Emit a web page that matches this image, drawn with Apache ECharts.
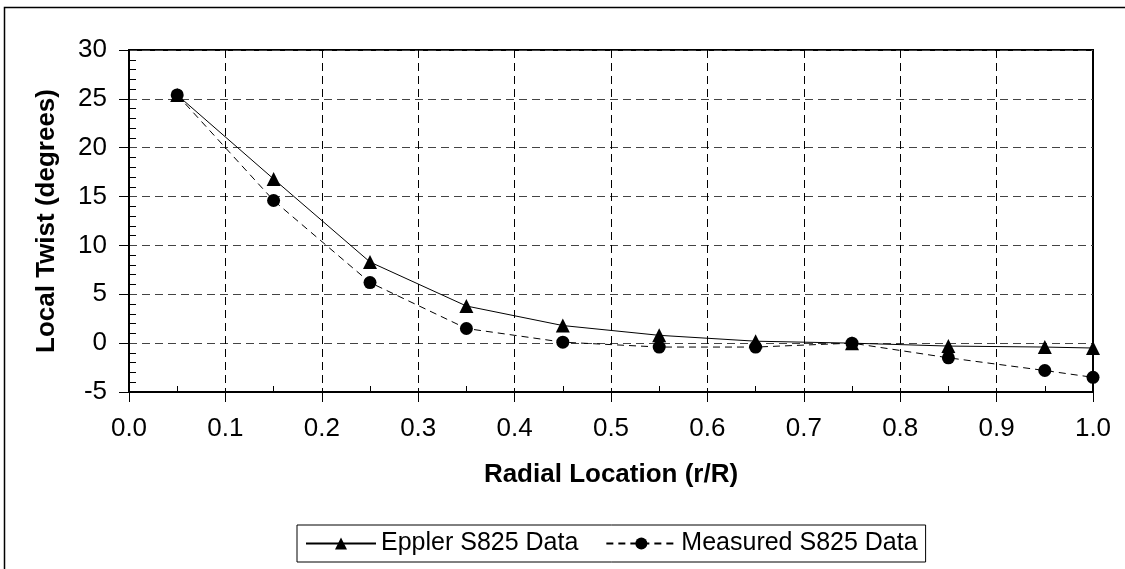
<!DOCTYPE html>
<html>
<head>
<meta charset="utf-8">
<script src="https://cdn.jsdelivr.net/npm/echarts@6/dist/echarts.min.js"></script>
<style>
html,body{margin:0;padding:0;background:#fff;}
#chart{width:1125px;height:569px;}
</style>
</head>
<body>
<div id="chart"></div>
<script>
const radial = [0.05, 0.15, 0.25, 0.35, 0.45, 0.55, 0.65, 0.75, 0.85, 0.95, 1.0];
const epplerTwist = [25.4, 16.8, 8.3, 3.8, 1.8, 0.8, 0.2, 0.0, -0.3, -0.4, -0.5];
const measuredTwist = [25.4, 14.6, 6.2, 1.5, 0.1, -0.4, -0.4, 0.0, -1.5, -2.8, -3.5];
const seriesNames = ['Eppler S825 Data', 'Measured S825 Data'];
const xTitle = 'Radial Location (r/R)';
const yTitle = 'Local Twist (degrees)';

const font = 'Liberation Sans, Arial, sans-serif';
const chart = echarts.init(document.getElementById('chart'), null, {renderer: 'canvas'});
chart.setOption({
  animation: false,
  backgroundColor: '#fff',
  graphic: [{
    type: 'rect', shape: {x: 4.5, y: 7.5, width: 1130, height: 580},
    style: {fill: 'none', stroke: '#000', lineWidth: 1.5}, silent: true, z: -1
  }],
  grid: {left: 129, top: 50, right: 32, bottom: 177, show: true, borderColor: '#000', borderWidth: 2, backgroundColor: 'transparent'},
  legend: {
    data: seriesNames,
    left: 297, top: 525,
    padding: [6, 8, 6, 8],
    itemGap: 27,
    itemWidth: 70, itemHeight: 15,
    borderColor: '#000', borderWidth: 1,
    textStyle: {fontFamily: font, fontSize: 25, color: '#000'}
  },
  xAxis: {
    type: 'value', min: 0, max: 1, interval: 0.1,
    name: xTitle, nameLocation: 'middle', nameGap: 70,
    nameTextStyle: {fontFamily: font, fontSize: 26, fontWeight: 'bold', color: '#000'},
    axisLine: {onZero: false, lineStyle: {color: '#000', width: 2}},
    axisTick: {show: true, inside: false, length: 10, lineStyle: {color: '#000'}},
    minorTick: {show: true, splitNumber: 2, length: -6, lineStyle: {color: '#000'}},
    axisLabel: {fontFamily: font, fontSize: 26, color: '#000', margin: 24, formatter: v => v.toFixed(1)},
    splitLine: {show: true, lineStyle: {color: '#000', type: [8, 5], width: 1}}
  },
  yAxis: {
    type: 'value', min: -5, max: 30, interval: 5,
    name: yTitle, nameLocation: 'middle', nameGap: 69, nameRotate: 90,
    nameTextStyle: {fontFamily: font, fontSize: 26, fontWeight: 'bold', color: '#000'},
    axisLine: {show: true, lineStyle: {color: '#000', width: 2}},
    axisTick: {show: true, inside: false, length: 10, lineStyle: {color: '#000'}},
    minorTick: {show: true, splitNumber: 5, length: -7, lineStyle: {color: '#000'}},
    axisLabel: {fontFamily: font, fontSize: 26, color: '#000', margin: 22},
    splitLine: {show: true, lineStyle: {color: '#444', type: [8, 5], width: 1}}
  },
  series: [
    {
      name: seriesNames[0], type: 'line',
      data: radial.map((x, i) => [x, epplerTwist[i]]),
      symbol: 'triangle', symbolSize: 14,
      itemStyle: {color: '#000'},
      lineStyle: {color: '#000', width: 1, type: 'solid'},
      z: 3
    },
    {
      name: seriesNames[1], type: 'line',
      data: radial.map((x, i) => [x, measuredTwist[i]]),
      symbol: 'circle', symbolSize: 13,
      itemStyle: {color: '#000'},
      lineStyle: {color: '#000', width: 1, type: [7, 5]},
      z: 4
    }
  ]
});
</script>
</body>
</html>
